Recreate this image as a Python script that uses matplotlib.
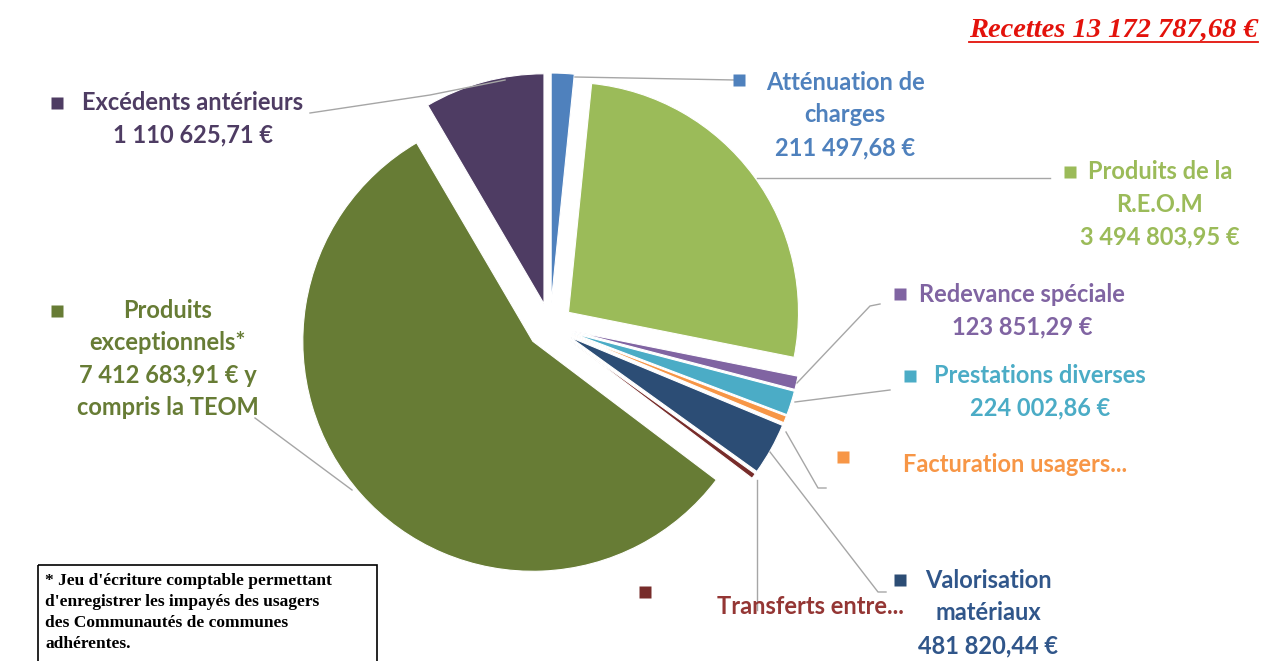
import matplotlib
matplotlib.use("Agg")
import matplotlib.pyplot as plt

# Recettes par poste (euros)
postes = ["Atténuation de charges", "Produits de la R.E.O.M", "Redevance spéciale",
          "Prestations diverses", "Facturation usagers", "Valorisation matériaux",
          "Transferts entre", "Produits exceptionnels", "Excédents antérieurs"]
montants = [211497.68, 3494803.95, 123851.29, 224002.86, 64000.00, 481820.44,
            49501.84, 7412683.91, 1110625.71]
couleurs = ["#4F81BD", "#9BBB59", "#8064A2", "#4BACC6", "#F79646", "#2C4D75",
            "#772C2A", "#677C35", "#4E3C63"]
textes = ["Atténuation de\ncharges\n211 497,68 €",
          "Produits de la\nR.E.O.M\n3 494 803,95 €",
          "Redevance spéciale\n123 851,29 €",
          "Prestations diverses\n224 002,86 €",
          "Facturation usagers...",
          "Valorisation\nmatériaux\n481 820,44 €",
          "Transferts entre...",
          "Produits\nexceptionnels*\n7 412 683,91 € y\ncompris la TEOM",
          "Excédents antérieurs\n1 110 625,71 €"]
couleurs_texte = ["#4F81BD", "#9BBB59", "#8064A2", "#4BACC6", "#F79646", "#30568A",
                  "#943634", "#677C35", "#4E3C63"]
titre = "Recettes 13 172 787,68 €"
note = ("* Jeu d'écriture comptable permettant\nd'enregistrer les impayés des usagers\n"
        "des Communautés de communes\nadhérentes.")

W, H = 1263, 661
fig = plt.figure(figsize=(W / 100, H / 100), dpi=100)

# pie axes: radius 1 = R pixels
cx, cy, R = 550, 326, 230
pax = fig.add_axes([0, 0, 1, 1])
pax.pie(montants, colors=couleurs, startangle=90, counterclock=False,
        explode=[0.1] * len(montants),
        wedgeprops=dict(edgecolor="white", linewidth=0.8))
pax.set_xlim(-cx / R, (W - cx) / R)
pax.set_ylim(-(H - cy) / R, cy / R)
pax.axis("off")

# overlay axes in pixel coordinates (y from top)
ax = fig.add_axes([0, 0, 1, 1])
ax.set_xlim(0, W)
ax.set_ylim(H, 0)
ax.axis("off")
ax.patch.set_alpha(0)

lab_font = dict(family="Lato", fontweight="bold", fontsize=17, linespacing=1.5)
gris = "#A6A6A6"

# text centre, marker position, leader polyline for each poste
pos_texte = [(845, 115), (1160, 204), (1022, 311), (1040, 392), (1015, 465),
             (988, 613), (810, 607), (168, 359), (193, 119)]
pos_carre = [(739, 80), (1070, 172), (900, 294), (910, 376), (843, 457),
             (900, 580), (645, 592), (57, 311), (57, 103)]
leaders = [[(575, 77), (735, 80)],
           [(757, 178), (1050, 178)],
           [(797, 383), (870, 306), (880, 304)],
           [(795, 402), (890, 390)],
           [(786, 432), (818, 488), (826, 488)],
           [(770, 452), (878, 592), (886, 592)],
           [(757, 480), (757, 610)],
           [(352, 490), (255, 418)],
           [(505, 80), (430, 95), (310, 113)]]

for i in range(len(postes)):
    xs, ys = zip(*leaders[i])
    ax.plot(xs, ys, color=gris, lw=1)
    ax.plot(*pos_carre[i], marker="s", ms=8, color=couleurs[i], mec="none")
    ax.text(*pos_texte[i], textes[i], color=couleurs_texte[i],
            ha="center", va="center", **lab_font)

# title, underlined
t = ax.text(1258, 30, titre, color="#E3120B", ha="right", va="center",
            family="Liberation Serif", fontweight="bold", fontstyle="italic",
            fontsize=20.5)
fig.canvas.draw()
bb = t.get_window_extent().transformed(ax.transData.inverted())
ax.plot([bb.x0, bb.x1], [bb.y0 - 1, bb.y0 - 1], color="#E3120B", lw=1.3)

# footnote box
ax.add_patch(plt.Rectangle((38, 565), 339, 110, fill=False, ec="black", lw=1.2))
ax.text(45, 573, note, ha="left", va="top", family="Liberation Serif",
        fontweight="bold", fontsize=12.5, linespacing=1.42, color="black")

fig.savefig("out.png", dpi=100)
